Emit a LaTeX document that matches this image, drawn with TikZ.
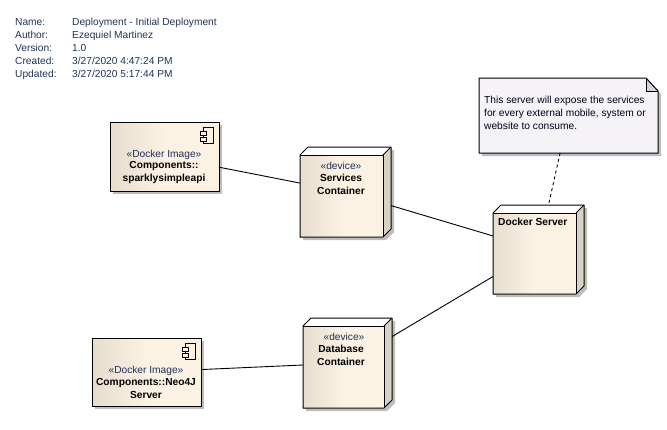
\documentclass[tikz,border=0pt]{standalone}
\usepackage{fontspec}
\setmainfont{Liberation Sans}
\definecolor{boxleft}{HTML}{E6DDCD}
\definecolor{boxright}{HTML}{FBF2E4}
\definecolor{boxside}{HTML}{D9D1C4}
\definecolor{boxshadow}{HTML}{BDBDBD}
\definecolor{notefill}{HTML}{F6F3F8}
\definecolor{notefold}{HTML}{D6D3D6}
\definecolor{headtext}{HTML}{1F3553}
\definecolor{stereotext}{HTML}{1F2F5A}
\tikzset{
  smalltext/.style={font=\fontsize{10.2}{13}\selectfont},
  headlabel/.style={smalltext,text=headtext,anchor=base west,inner sep=0pt},
  stereolabel/.style={smalltext,text=stereotext,inner sep=0pt,anchor=base},
  namelabel/.style={font=\fontsize{10.2}{13}\selectfont\bfseries,align=center,inner sep=0pt},
  outline/.style={draw=black,line width=1pt},
  boxarea/.style={inner sep=0pt,outer sep=0pt,rectangle}
}
% name, left, top, front width, front height
\newcommand{\devicenode}[5]{
  \begin{scope}[shift={(#2,#3)}]
    \fill[boxshadow] (11,3) -- (#4+11,3) -- (#4+11,#5+3) -- (#4+3,#5+11) -- (3,#5+11) -- cycle;
    \shade[left color=boxleft,right color=boxright,middle color=boxright] (0,8) rectangle (#4,#5+8);
    \fill[white] (0,8) -- (8,0) -- (#4+8,0) -- (#4,8) -- cycle;
    \fill[boxside] (#4,8) -- (#4+8,0) -- (#4+8,#5) -- (#4,#5+8) -- cycle;
    \draw[outline,line join=round] (0,8) -- (8,0) -- (#4+8,0) -- (#4+8,#5) -- (#4,#5+8) -- (0,#5+8) -- cycle;
    \draw[outline] (0,8) -- (#4,8) -- (#4,#5+8);
    \draw[outline] (#4,8) -- (#4+8,0);
    \node[boxarea,minimum width=#4pt+8pt,minimum height=#5pt+8pt] (#1) at ({#4/2+4},{#5/2+4}) {};
  \end{scope}
}
% name, left, top, width, height
\newcommand{\componentnode}[5]{
  \begin{scope}[shift={(#2,#3)}]
    \fill[boxshadow] (3,3) rectangle (#4+3,#5+3);
    \shade[left color=boxleft,right color=boxright,middle color=boxright] (0,0) rectangle (#4,#5);
    \draw[outline] (0,0) rectangle (#4,#5);
    \draw[black,line width=.8pt] (#4-15.5,5.7) rectangle (#4-5.7,21.3);
    \draw[black,line width=.8pt,fill=boxright] (#4-18.5,9.5) rectangle (#4-12.5,13.5);
    \draw[black,line width=.8pt,fill=boxright] (#4-18.5,15.5) rectangle (#4-12.5,19.5);
    \node[boxarea,minimum width=#4pt,minimum height=#5pt] (#1) at ({#4/2},{#5/2}) {};
  \end{scope}
}
\begin{document}
\begin{tikzpicture}[x=1pt,y=-1pt]
  \useasboundingbox (0,0) rectangle (667,429);
  % Header
  \node[headlabel] (nametag) at (15,25) {Name:};
  \node[headlabel] (namevalue) at (72,25) {Deployment - Initial Deployment};
  \node[headlabel] (authortag) at (15,38) {Author:};
  \node[headlabel] (authorvalue) at (72,38) {Ezequiel Martinez};
  \node[headlabel] (versiontag) at (15,51) {Version:};
  \node[headlabel] (versionvalue) at (72,51) {1.0};
  \node[headlabel] (createdtag) at (15,64) {Created:};
  \node[headlabel] (createdvalue) at (72,64) {3/27/2020 4:47:24 PM};
  \node[headlabel] (updatedtag) at (15,77) {Updated:};
  \node[headlabel] (updatedvalue) at (72,77) {3/27/2020 5:17:44 PM};
  % Boxes
  \componentnode{apiimage}{110}{122}{109}{69}
  \componentnode{neoimage}{92}{338}{109}{68}
  \devicenode{services}{300}{147}{83}{82}
  \devicenode{database}{303}{318}{81}{82}
  \devicenode{dockerserver}{493}{205}{83}{81}
  % Note
  \fill[boxshadow] (482,81) -- (649,81) -- (661,94) -- (661,156) -- (482,156) -- cycle;
  \fill[notefill] (479,78) -- (646,78) -- (658,91) -- (658,153) -- (479,153) -- cycle;
  \fill[notefold] (646,78) -- (658,91) -- (646,91) -- cycle;
  \draw[outline,line join=round] (479,78) -- (646,78) -- (658,91) -- (658,153) -- (479,153) -- cycle;
  \draw[black,line width=.7pt] (646,78) -- (646,91) -- (658,91);
  \node[boxarea,minimum width=179pt,minimum height=75pt] (servernote) at (568.5,115.5) {};
  % Labels
  \node[stereolabel] (apistereo) at (164,157) {«Docker Image»};
  \node[namelabel] (apiname) at (164,172.5) {Components::\\sparklysimpleapi};
  \node[stereolabel] (neostereo) at (146,373) {«Docker Image»};
  \node[namelabel] (neoname) at (146,388.5) {Components::Neo4J\\Server};
  \node[stereolabel] (servicesstereo) at (341,169) {«device»};
  \node[namelabel] (servicesname) at (341,184.5) {Services\\Container};
  \node[stereolabel] (databasestereo) at (344,340) {«device»};
  \node[namelabel] (databasename) at (341,355.5) {Database\\Container};
  \node[namelabel,anchor=west] (dockername) at (498,221.5) {Docker Server};
  \node[smalltext,align=left,anchor=north west,inner sep=0pt,text=black!90!blue] (notetext) at (484,96) {This server will expose the services\\for every external mobile, system or\\website to consume.};
  % Connectors
  \draw[line width=.9pt] (apiimage) -- (services);
  \draw[line width=.9pt] (neoimage) -- (database);
  \draw[line width=.9pt] (services) -- (dockerserver);
  \draw[line width=.9pt] (database) -- (dockerserver);
  \draw[line width=.9pt,dash pattern=on 3pt off 3pt] (servernote) -- (dockerserver);
\end{tikzpicture}
\end{document}
